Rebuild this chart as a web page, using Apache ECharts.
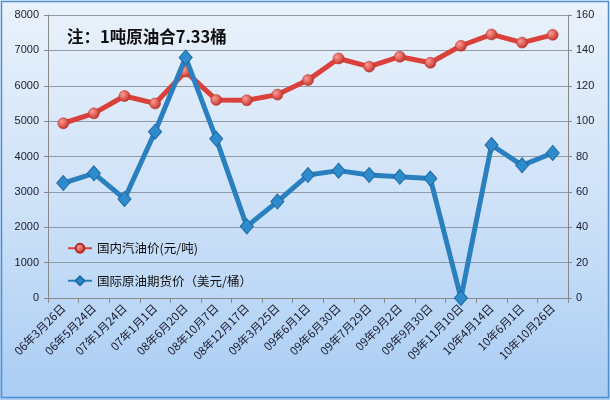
<!DOCTYPE html>
<html><head><meta charset="utf-8">
<script src="https://cdn.jsdelivr.net/npm/echarts@6/dist/echarts.min.js"></script>
<style>html,body{margin:0;padding:0;}#c{width:610px;height:400px;}</style>
</head><body><div id="c"></div>
<script>
const categories = ['06年3月26日','06年5月24日','07年1月24日','07年1月1日','08年6月20日','08年10月7日','08年12月17日','09年3月25日','09年6月1日','09年6月30日','09年7月29日','09年9月2日','09年9月30日','09年11月10日','10年4月14日','10年6月1日','10年10月26日'];
const gasolinePrice = [4940, 5220, 5710, 5500, 6400, 5600, 5590, 5750, 6160, 6770, 6540, 6820, 6650, 7130, 7450, 7220, 7440];
const crudeFutures = [65, 70.5, 56, 94, 136, 90, 40.5, 54.5, 69.5, 72, 69.5, 68.5, 67.5, 0, 86.5, 75, 82];
const leftTicks = [0, 8000, 1000];
const rightTicks = [0, 160, 20];
const seriesNames = ['国内汽油价(元/吨)', '国际原油期货价（美元/桶）'];
const note = '注：1吨原油合7.33桶';

const chart = echarts.init(document.getElementById('c'));
chart.setOption({
  backgroundColor: new echarts.graphic.LinearGradient(0,0,0,1,[{offset:0,color:'#eaf2fb'},{offset:0.5,color:'#cfe2f8'},{offset:1,color:'#a9cdf4'}]),
  animation: false,
  grid: {left: 48, right: 42, top: 15, bottom: 102},
  graphic: [
    {type:'rect', silent:true, z:100, shape:{x:1.5,y:1.5,width:607,height:396}, style:{fill:'none', stroke:'#4f8fd0', lineWidth:1.5}},
    {type:'text', left:67, top:28, style:{text: note, font:'bold 16.5px "Noto Sans CJK SC", sans-serif', fill:'#111'}}
  ],
  legend: {
    orient:'vertical', left:62, top:237, itemGap:20, itemWidth:24, itemHeight:11,
    textStyle:{fontSize:12.5, color:'#111', fontFamily:'"Noto Sans CJK SC", sans-serif'},
    data: seriesNames
  },
  xAxis: {
    type:'category', data: categories, boundaryGap:true,
    axisLine:{lineStyle:{color:'#888', width:1}},
    axisTick:{show:true, length:5, lineStyle:{color:'#888'}},
    axisLabel:{rotate:45, fontSize:11.5, color:'#1a1a2a', margin:8, interval:0, fontFamily:'"Noto Sans CJK SC", sans-serif'}
  },
  yAxis: [
    {type:'value', min:leftTicks[0], max:leftTicks[1], interval:leftTicks[2],
     axisLine:{show:true, lineStyle:{color:'#888'}}, axisTick:{show:true, length:4, lineStyle:{color:'#888'}},
     axisLabel:{fontSize:11, color:'#1a1a2a', margin:9, formatter: v => String(v)},
     splitLine:{lineStyle:{color:'#8e9aa6', width:1}}},
    {type:'value', min:rightTicks[0], max:rightTicks[1], interval:rightTicks[2], position:'right',
     axisLine:{show:true, lineStyle:{color:'#888'}}, axisTick:{show:true, length:4, lineStyle:{color:'#888'}},
     axisLabel:{fontSize:11, color:'#1a1a2a', margin:8, formatter: v => String(v)},
     splitLine:{show:false}}
  ],
  series: [
    {name: seriesNames[0], type:'line', yAxisIndex:0, data: gasolinePrice,
     symbol:'circle', symbolSize:11,
     lineStyle:{color:'#d9413a', width:5},
     itemStyle:{color: new echarts.graphic.RadialGradient(0.35,0.35,0.7,[{offset:0,color:'#ff9a90'},{offset:1,color:'#c0302a'}]), borderColor:'#b02a25', borderWidth:0.5},
     z:3},
    {name: seriesNames[1], type:'line', yAxisIndex:1, data: crudeFutures,
     symbol:'diamond', symbolSize:[13,15],
     lineStyle:{color:'#2a80bf', width:5},
     itemStyle:{color:'#2f8ccc', borderColor:'#1c6aa6', borderWidth:1},
     z:4}
  ]
});
</script></body></html>
